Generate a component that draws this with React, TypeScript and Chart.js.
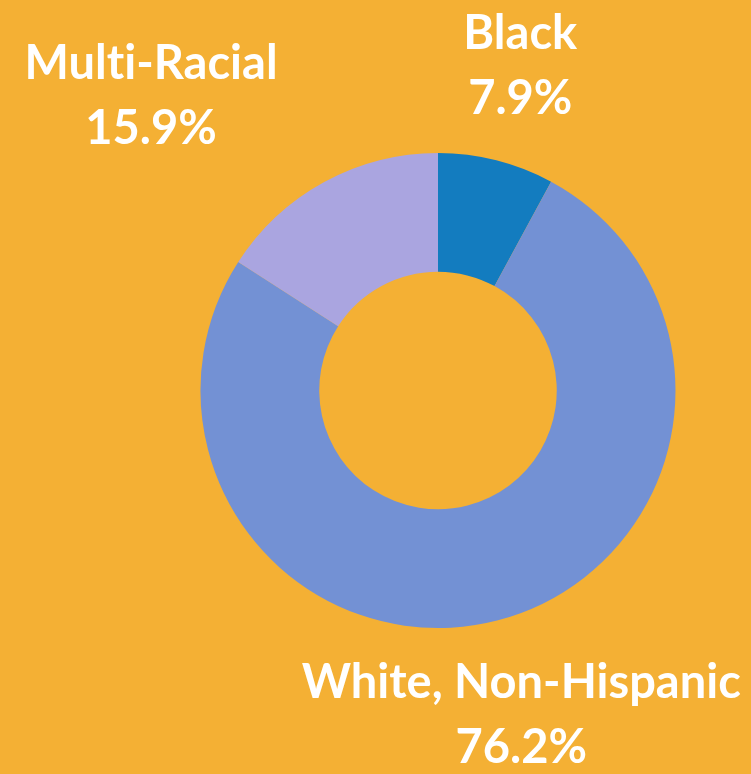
import React, { useEffect, useRef } from "react";
import { Chart, registerables } from "chart.js";

Chart.register(...registerables);

const categories = ["Black", "White, Non-Hispanic", "Multi-Racial"];
const values = [7.9, 76.2, 15.9];
const valueLabels = ["7.9%", "76.2%", "15.9%"];
const colors = ["#137CBF", "#7391D4", "#AAA5E0"];

const BG = "#F4B034";

const labelPlugin = {
  id: "outerLabels",
  afterDraw(chart: any) {
    const ctx = chart.ctx;
    const meta = chart.getDatasetMeta(0);
    const fontSize = 47;
    const lineGap = 65;
    ctx.save();
    ctx.fillStyle = "#FFFFFF";
    ctx.font = `bold ${fontSize}px Lato`;
    try {
      (ctx as any).letterSpacing = "0.01px";
    } catch (e) {}
    ctx.textBaseline = "middle";
    ctx.textAlign = "center";
    meta.data.forEach((arc: any, i: number) => {
      const { x, y, startAngle, endAngle, outerRadius } = arc.getProps(
        ["x", "y", "startAngle", "endAngle", "outerRadius"],
        true
      );
      const mid = (startAngle + endAngle) / 2;
      const r = outerRadius * 1.41;
      const ax = x + Math.cos(mid) * r;
      const ay = y + Math.sin(mid) * r;
      const lines = [categories[i], valueLabels[i]];
      const w = Math.max(...lines.map((l) => ctx.measureText(l).width));
      const c = Math.cos(mid);
      let cx = ax;
      if (c < -0.35) cx = ax - w / 2;
      else if (c > 0.35) cx = ax + w / 2;
      lines.forEach((l, k) => {
        ctx.fillText(l, cx, ay + (k - (lines.length - 1) / 2) * lineGap);
      });
    });
    ctx.restore();
  },
};

export default function App() {
  const ref = useRef<HTMLCanvasElement>(null);
  useEffect(() => {
    document.body.style.margin = "0";
    const chart = new Chart(ref.current!, {
      type: "doughnut",
      data: {
        labels: categories,
        datasets: [
          {
            data: values,
            backgroundColor: colors,
            borderWidth: 0,
          },
        ],
      },
      options: {
        animation: false,
        responsive: false,
        cutout: "50%",
        layout: { padding: { left: 200, right: 75, top: 153, bottom: 146 } },
        plugins: {
          legend: { display: false },
          tooltip: { enabled: false },
        },
      },
      plugins: [labelPlugin],
    });
    return () => chart.destroy();
  }, []);
  return (
    <div style={{ position: "fixed", inset: 0, background: BG }}>
      <canvas ref={ref} width={751} height={774} style={{ display: "block" }} />
    </div>
  );
}
